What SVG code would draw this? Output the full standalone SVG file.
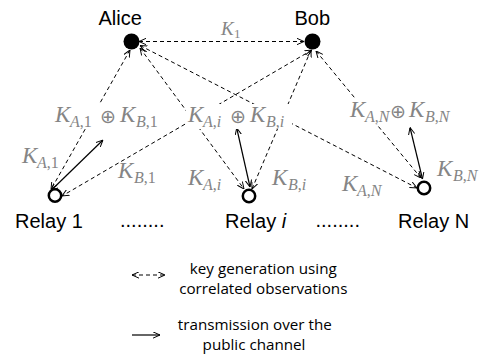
<svg xmlns="http://www.w3.org/2000/svg" width="491" height="356" viewBox="0 0 491 356">
<style>
.dash{stroke:#000;stroke-width:1;stroke-dasharray:4 3;fill:none;marker-start:url(#ah);marker-end:url(#ah)}
.solid{stroke:#000;stroke-width:1.2;fill:none;marker-start:url(#ah);marker-end:url(#ah)}
.name{font-family:"Liberation Sans",Arial,sans-serif;font-size:20px;fill:#000}
.m{font-family:"Liberation Serif","DejaVu Serif",serif;font-size:23px;fill:#858585}
.k{font-style:italic}
.s{font-size:16px}
.op{font-family:"DejaVu Sans",sans-serif;font-size:19px}
.leg{font-family:"Open Sans","Liberation Sans",sans-serif;font-size:15.2px;fill:#000;text-anchor:middle}
.bg{fill:#fff}
.relay{fill:#fff;stroke:#000;stroke-width:2.5}
</style>
<defs>
<marker id="ah" viewBox="0 0 10 10" refX="10" refY="5" markerWidth="7" markerHeight="7" markerUnits="userSpaceOnUse" orient="auto-start-reverse">
<path d="M0,0.5 L10,5 L0,9.5" fill="none" stroke="#000" stroke-width="1.4"/>
</marker>
<marker id="ahe" viewBox="0 0 10 10" refX="10" refY="5" markerWidth="7" markerHeight="7" markerUnits="userSpaceOnUse" orient="auto">
<path d="M0,0.5 L10,5 L0,9.5" fill="none" stroke="#000" stroke-width="1.4"/>
</marker>
</defs>
<rect width="491" height="356" fill="#fff"/>

<g id="connectors">
<line class="dash" x1="139" y1="41.5" x2="304" y2="41.5"/>
<line class="dash" x1="130" y1="50" x2="51" y2="189.5"/>
<line class="dash" x1="312" y1="50" x2="62" y2="196"/>
<line class="dash" x1="140" y1="48" x2="244" y2="189"/>
<line class="dash" x1="311" y1="50" x2="252" y2="189"/>
<line class="dash" x1="140" y1="45.5" x2="417" y2="188"/>
<line class="dash" x1="316" y1="51" x2="421" y2="178"/>
<line class="solid" x1="51" y1="190.5" x2="103" y2="140"/>
<line class="solid" x1="250" y1="187" x2="236.7" y2="128"/>
<line class="solid" x1="422.5" y1="179" x2="410" y2="127.5"/>
</g>

<g id="label-k1">
<text class="m" x="221" y="35" style="font-size:19px"><tspan class="k">K</tspan><tspan x="234" dy="3" style="font-size:13px">1</tspan></text>
</g>

<g id="label-x1">
<rect class="bg" x="53" y="104" width="112" height="25"/>
<text class="m" y="122"><tspan class="k" x="55">K</tspan><tspan class="s" x="70" dy="5"><tspan class="k">A</tspan>,1</tspan><tspan class="op" x="100" dy="-4">⊕</tspan><tspan class="k" x="120" dy="-1">K</tspan><tspan class="s" x="136" dy="5"><tspan class="k">B</tspan>,1</tspan></text>
</g>
<g id="label-xi">
<rect class="bg" x="186" y="104" width="106" height="25"/>
<text class="m" y="122"><tspan class="k" x="188">K</tspan><tspan class="s" x="203" dy="5"><tspan class="k">A</tspan>,<tspan class="k">i</tspan></tspan><tspan class="op" x="230" dy="-4">⊕</tspan><tspan class="k" x="250" dy="-1">K</tspan><tspan class="s" x="266" dy="5"><tspan class="k">B</tspan>,<tspan class="k">i</tspan></tspan></text>
</g>
<g id="label-xN">
<rect class="bg" x="346" y="99" width="126" height="25"/>
<text class="m" y="117"><tspan class="k" x="350">K</tspan><tspan class="s" x="365" dy="5"><tspan class="k">A</tspan>,<tspan class="k">N</tspan></tspan><tspan class="op" x="390" dy="-4">⊕</tspan><tspan class="k" x="409" dy="-1">K</tspan><tspan class="s" x="425" dy="5"><tspan class="k">B</tspan>,<tspan class="k">N</tspan></tspan></text>
</g>

<g id="label-ka1"><text class="m" y="163"><tspan class="k" x="22">K</tspan><tspan class="s" x="37" dy="5"><tspan class="k">A</tspan>,1</tspan></text></g>
<g id="label-kb1"><text class="m" y="178"><tspan class="k" x="118">K</tspan><tspan class="s" x="134" dy="5"><tspan class="k">B</tspan>,1</tspan></text></g>
<g id="label-kai"><text class="m" y="185"><tspan class="k" x="188">K</tspan><tspan class="s" x="203" dy="5"><tspan class="k">A</tspan>,<tspan class="k">i</tspan></tspan></text></g>
<g id="label-kbi"><text class="m" y="185"><tspan class="k" x="272">K</tspan><tspan class="s" x="288" dy="5"><tspan class="k">B</tspan>,<tspan class="k">i</tspan></tspan></text></g>
<g id="label-kaN"><text class="m" y="191"><tspan class="k" x="342">K</tspan><tspan class="s" x="357" dy="5"><tspan class="k">A</tspan>,<tspan class="k">N</tspan></tspan></text></g>
<g id="label-kbN"><text class="m" y="176"><tspan class="k" x="437">K</tspan><tspan class="s" x="453" dy="5"><tspan class="k">B</tspan>,<tspan class="k">N</tspan></tspan></text></g>

<g id="alice">
<circle cx="131.5" cy="41.5" r="8" fill="#000"/>
<text class="name" x="98.5" y="25">Alice</text>
</g>
<g id="bob">
<circle cx="312.5" cy="41.5" r="8" fill="#000"/>
<text class="name" x="294.5" y="25">Bob</text>
</g>
<g id="relay1">
<circle class="relay" cx="55" cy="195.5" r="6.2"/>
<text class="name" x="15" y="228">Relay 1</text>
</g>
<g id="relayi">
<circle class="relay" cx="249" cy="196" r="6.2"/>
<text class="name" x="225" y="228">Relay <tspan font-style="italic">i</tspan></text>
</g>
<g id="relayN">
<circle class="relay" cx="424" cy="188" r="6.2"/>
<text class="name" x="398" y="228">Relay N</text>
</g>
<g id="dots">
<text class="name" x="120" y="227">........</text>
<text class="name" x="315.5" y="227">........</text>
</g>

<g id="legend">
<line class="dash" x1="132" y1="275" x2="165" y2="275"/>
<text class="leg"><tspan x="263.3" y="274">key generation using</tspan><tspan x="263.3" y="293.5">correlated observations</tspan></text>
<line x1="132" y1="335" x2="160" y2="335" stroke="#000" stroke-width="1.2" marker-end="url(#ahe)"/>
<text class="leg"><tspan x="254.8" y="329.5">transmission over the</tspan><tspan x="254" y="349.5">public channel</tspan></text>
</g>
</svg>
